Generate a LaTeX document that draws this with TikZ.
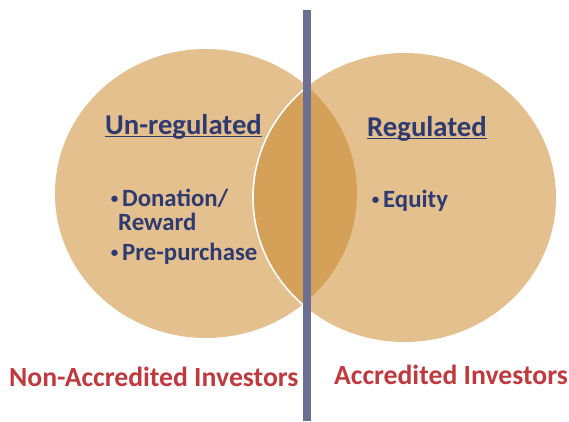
\documentclass[tikz,border=0pt]{standalone}
\usepackage{fontspec}
\setmainfont{Carlito}
\usepackage{tikz}
\usetikzlibrary{positioning}
\definecolor{tan}{RGB}{228,192,143}
\definecolor{lens}{RGB}{213,160,88}
\definecolor{bar}{RGB}{107,111,145}
\definecolor{navy}{RGB}{47,58,112}
\definecolor{redtext}{RGB}{192,57,63}
\tikzstyle{title} = [inner sep=0pt, anchor=base west, text=navy, font=\bfseries\fontsize{28.7}{34}\selectfont]
\tikzstyle{item} = [inner sep=0pt, anchor=base west, text=navy, font=\bfseries\fontsize{24.8}{30}\selectfont]
\tikzstyle{dot} = [inner sep=0pt, anchor=base, text=navy, font=\bfseries\fontsize{15}{18}\selectfont]
\tikzstyle{investor} = [inner sep=0pt, anchor=base west, text=redtext, font=\bfseries\fontsize{27.7}{32}\selectfont]

\begin{document}
\begin{tikzpicture}[x=1pt, y=-1pt]
		\useasboundingbox (0,0) rectangle (569,421);
		% circles
		\fill [tan] (206,193.5) ellipse [x radius=151pt, y radius=144.5pt];
		\fill [tan] (404.5,197.5) ellipse [x radius=151.5pt, y radius=144.5pt];
		\begin{scope}
			\clip (206,193.5) ellipse [x radius=151pt, y radius=144.5pt];
			\fill [lens] (404.5,197.5) ellipse [x radius=151.5pt, y radius=144.5pt];
			\draw [white, line width=1.6pt] (404.5,197.5) ellipse [x radius=151.5pt, y radius=144.5pt];
		\end{scope}
		\fill [bar] (303,10) rectangle (311,421);

		\node [title] (ureg) at (105,134) {Un-regulated};
			\draw [navy, line width=0.9pt] ([yshift=-2.2pt]ureg.base west) -- ([yshift=-2.2pt]ureg.base east);
		\node [title] (reg) at (367,136) {Regulated};
			\draw [navy, line width=0.9pt] ([yshift=-2.8pt]reg.base west) -- ([yshift=-2.8pt]reg.base east);

		\node [dot] (d1) at (114.5,203.5) {•};
		\node [item] (don) at (122,206) {Donation/};
		\node [item] (rew) at (118,230) {Reward};
		\node [dot] (d2) at (114.5,257.5) {•};
		\node [item] (pre) at (122,260) {Pre-purchase};

		\node [dot] (d3) at (375.5,204.5) {•};
		\node [item] (eq) at (383,207) {Equity};

		\node [investor] (nonacc) at (9,386) {Non-Accredited Investors};
		\node [investor] (acc) at (334,384) {Accredited Investors};
\end{tikzpicture}
\end{document}
